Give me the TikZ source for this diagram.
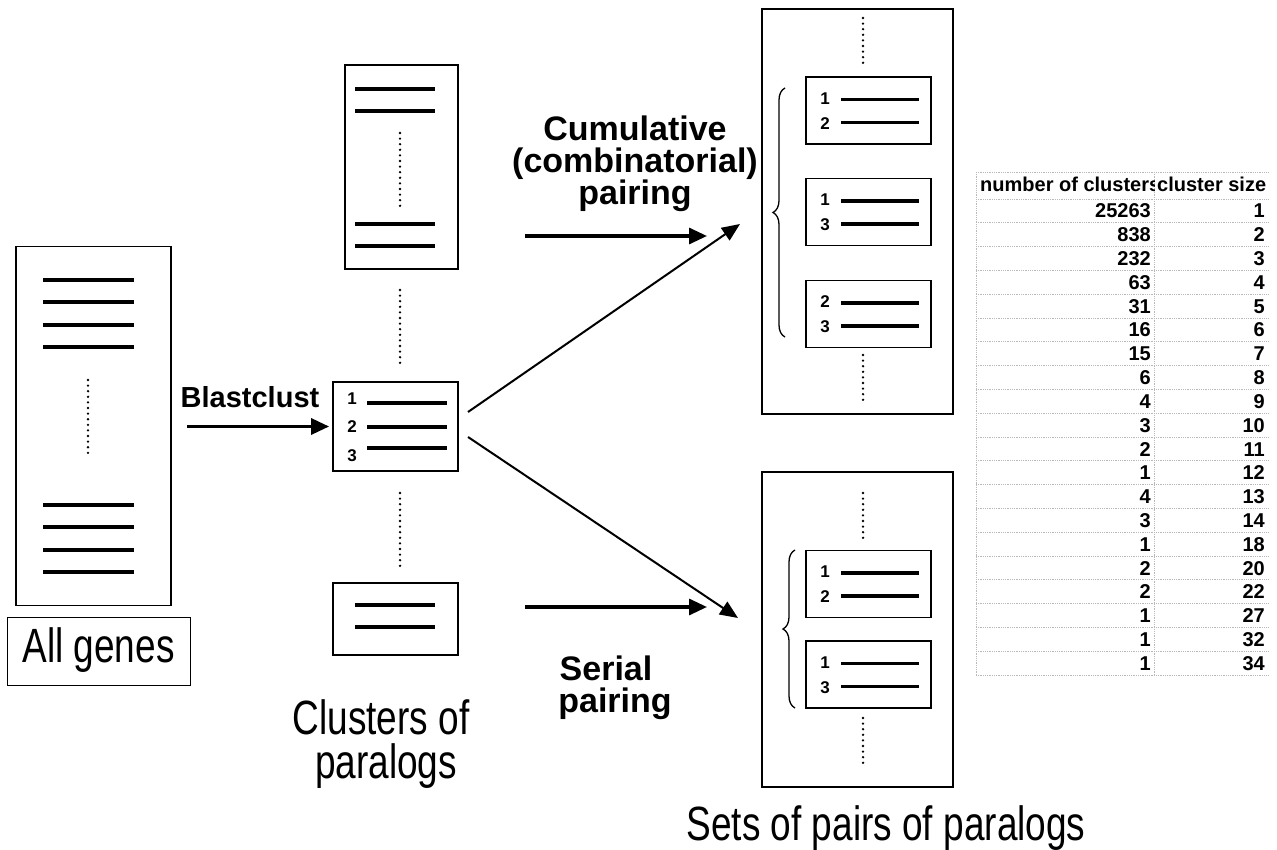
\documentclass[tikz,border=0pt]{standalone}
\usepackage{graphicx}
\usepackage{fontspec}
\setmainfont{Liberation Sans}
\usetikzlibrary{arrows.meta,decorations.pathreplacing}
\begin{document}
\begin{tikzpicture}[x=1pt,y=-1pt,
  box/.style={draw, line width=1.8pt, inner sep=0pt},
  gline/.style={line width=3.4pt},
  dotline/.style={line width=2.6pt, line cap=round, dash pattern=on 0pt off 5.6pt},
  fatarrow/.style={line width=3.2pt, -{Triangle[length=18pt,width=16pt]}},
  thinarrow/.style={line width=2pt, -{Triangle[length=18pt,width=15pt]}},
  num/.style={font=\fontsize{17}{17}\selectfont\bfseries, inner sep=0pt},
  lab/.style={font=\fontsize{34}{32}\selectfont\bfseries, inner sep=0pt, align=center},
  plain/.style={font=\fontsize{37}{37}\selectfont, inner sep=0pt, anchor=base},
  tab/.style={font=\fontsize{20}{20}\selectfont\bfseries, inner sep=0pt, anchor=base east},
  gridl/.style={gray!55, line width=0.8pt, densely dotted},
  bracel/.style={line width=1.3pt, decorate, decoration={brace, amplitude=12pt}}]
\useasboundingbox (0,0) rectangle (1277,850);

% ---------- All genes ----------
\node[box, minimum width=155pt, minimum height=359pt] (allbox) at (93.5,426) {};
\foreach \y in {280,302,325,347,505,527,550,572} \draw[gline] (43,\y) -- (134,\y);
\draw[dotline] (88,380) -- (88,457);
\node[box, line width=0.9pt, minimum width=183pt, minimum height=68pt] (allgenesbox) at (98.5,651) {};
\node[plain] (allgeneslab) at (98.5,662) {\scalebox{1}[1.3]{All genes}};

% ---------- Clusters ----------
\node[box, minimum width=113pt, minimum height=204pt] (ctop) at (401.5,167) {};
\foreach \y in {89,111,224,246} \draw[gline] (355,\y) -- (435,\y);
\draw[dotline] (400,133) -- (400,210);
\draw[dotline] (400,290) -- (400,365);
\draw[dotline] (400,493) -- (400,568);

\node[box, minimum width=125pt, minimum height=89pt] (cmid) at (395.5,426.5) {};
\node[num] (m1) at (352,399) {1};
\node[num] (m2) at (352,427) {2};
\node[num] (m3) at (352,456) {3};
\foreach \y in {403,427,448} \draw[gline] (367,\y) -- (447,\y);

\node[box, minimum width=125pt, minimum height=72pt] (cbot) at (395.5,619) {};
\foreach \y in {605,627} \draw[gline] (355,\y) -- (435,\y);

% ---------- Right top (cumulative) ----------
\node[box, minimum width=191pt, minimum height=405pt] (rtop) at (857.5,211.5) {};
\draw[dotline] (863,18) -- (863,63);
\draw[dotline] (863,355) -- (863,400);
\foreach \n/\c/\a/\b in {ra/110.5/1/2, rb/212/1/3, rc/314/2/3} {
  \node[box, minimum width=125pt, minimum height=67pt] (\n) at (868.5,\c) {};
  \node[num] (\n1) at (825,\c-12) {\a};
  \node[num] (\n2) at (825,\c+13) {\b};
  \draw[gline] (841,\c-11) -- (919,\c-11);
  \draw[gline] (841,\c+12) -- (919,\c+12);
}
\draw[bracel] (785,337) -- (785,88);

% ---------- Right bottom (serial) ----------
\node[box, minimum width=191pt, minimum height=315pt] (rbot) at (857.5,629.5) {};
\draw[dotline] (863,493) -- (863,538);
\draw[dotline] (863,718) -- (863,765);
\foreach \n/\c/\a/\b in {rd/584/1/2, re/674.5/1/3} {
  \node[box, minimum width=125pt, minimum height=67pt] (\n) at (868.5,\c) {};
  \node[num] (\n1) at (825,\c-12) {\a};
  \node[num] (\n2) at (825,\c+13) {\b};
  \draw[gline] (841,\c-11) -- (919,\c-11);
  \draw[gline] (841,\c+12) -- (919,\c+12);
}
\draw[bracel] (795,708) -- (795,550);

% ---------- Arrows ----------
\coordinate (bstart) at (187,426.5);
\draw[fatarrow] (bstart) -- ([xshift=-3pt]cmid.west);
\coordinate (cs) at (525,236);
\coordinate (ce) at (707,236);
\draw[fatarrow] (cs) -- (ce);
\coordinate (ss) at (525,607);
\coordinate (se) at (707,607);
\draw[fatarrow] (ss) -- (se);
\coordinate (d1s) at (468,412);
\coordinate (d1e) at (740,224);
\draw[thinarrow] (d1s) -- (d1e);
\coordinate (d2s) at (468,437);
\coordinate (d2e) at (738,618);
\draw[thinarrow] (d2s) -- (d2e);

% ---------- Labels ----------
\node[lab, font=\fontsize{29}{29}\selectfont\bfseries, anchor=base] (blast) at (250,407) {Blastclust};
\node[lab, anchor=base] (cum) at (635,205) {Cumulative\\(combinatorial)\\pairing};
\node[lab, anchor=base] (ser) at (606,712) {Serial\\\hspace*{18pt}pairing};
\node[plain] (clus1) at (381,734) {\scalebox{1}[1.3]{Clusters of}};
\node[plain] (clus2) at (386,778) {\scalebox{1}[1.3]{paralogs}};
\node[plain] (sets) at (886,840) {\scalebox{1}[1.3]{Sets of pairs of paralogs}};

% ---------- Table ----------
\draw[gridl] (976,172) -- (1268,172);
\foreach \i in {0,...,20} \draw[gridl] (976,{199+23.8*\i}) -- (1268,{199+23.8*\i});
\draw[gridl] (976,172) -- (976,675);
\draw[gridl] (1154,172) -- (1154,675);
\begin{scope}
\clip (976,172) rectangle (1154,199);
\node[tab, anchor=base west] (hnum) at (980,192) {number of clusters};
\end{scope}
\node[tab, anchor=base west] (hsize) at (1157,192) {cluster size};
\foreach \a/\b [count=\i from 0] in {25263/1,838/2,232/3,63/4,31/5,16/6,15/7,6/8,4/9,3/10,2/11,1/12,4/13,3/14,1/18,2/20,2/22,1/27,1/32,1/34} {
  \node[tab] (n\i) at (1151,{218+23.8*\i}) {\a};
  \node[tab] (s\i) at (1265,{218+23.8*\i}) {\b};
}
\end{tikzpicture}
\end{document}
